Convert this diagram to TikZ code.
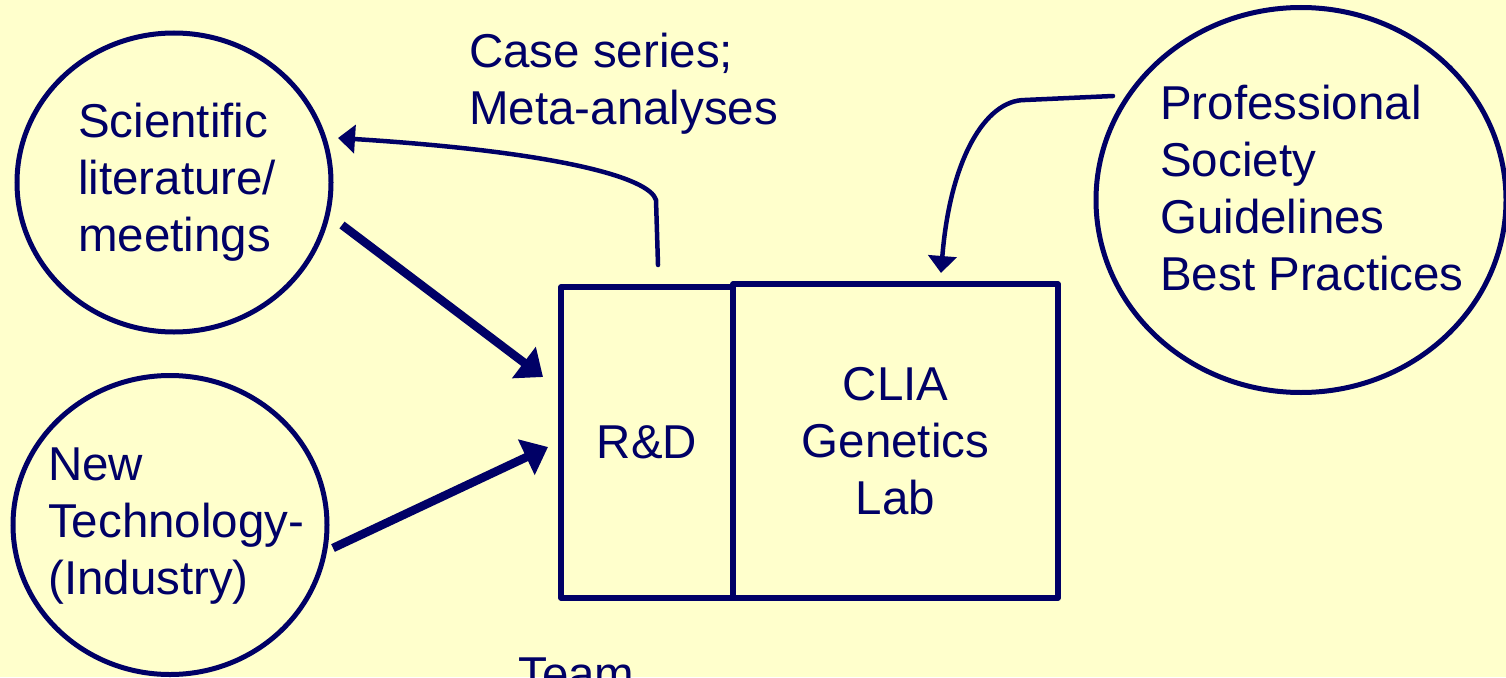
\documentclass[tikz,border=0pt]{standalone}
\usepackage{fontspec}
\setmainfont{Liberation Sans}
\usetikzlibrary{shapes.geometric,arrows.meta}
\definecolor{bgyellow}{RGB}{255,255,204}
\definecolor{navy}{RGB}{0,0,102}
\begin{document}
\begin{tikzpicture}[x=1pt,y=-1pt,
  every node/.style={font=\fontsize{47.5}{57}\selectfont, text=navy},
  oval/.style={ellipse, draw=navy, line width=5pt, inner sep=0pt},
  labbox/.style={draw=navy, line width=5.5pt, line join=round, inner sep=0pt, align=center},
  txt/.style={inner sep=0pt, align=left, anchor=north west},
  thinarrow/.style={draw=navy, line width=4.5pt, line cap=round, -{Triangle[length=17pt,width=28pt]}},
  thickarrow/.style={draw=navy, line width=8.5pt, -{Triangle[length=24pt,width=38pt]}},
]
\useasboundingbox (0,0) rectangle (1506,677);
\clip (0,0) rectangle (1506,677);
\fill[bgyellow] (0,0) rectangle (1506,677);

% ovals
\node[oval, minimum width=314pt, minimum height=299pt] (sci) at (174,182.5) {};
\node[oval, minimum width=314pt, minimum height=299pt] (tech) at (170,525) {};
\node[oval, minimum width=410pt, minimum height=385pt] (prof) at (1301,200) {};

\node[txt] (scitext) at (78,103) {Scientific\\literature/\\meetings};
\node[txt] (techtext) at (48,448) {New\\Technology-\\(Industry)};
\node[txt] (proftext) at (1160,85) {Professional\\Society\\Guidelines\\Best Practices};
\node[txt] (casetext) at (469,33) {Case series;\\Meta-analyses};
\node[txt] (teamtext) at (518,658) {Team};

% boxes
\node[labbox, minimum width=172pt, minimum height=311pt] (rd) at (647,442.5) {R\&D};
\node[labbox, minimum width=325pt, minimum height=314pt] (clia) at (895.5,441) {CLIA\\Genetics\\Lab};

% connectors
\coordinate (a1s) at (658,265);
\coordinate (a1m) at (656,200);
\coordinate (a1e) at (338,138);
\draw[thinarrow] (a1s) -- (a1m) .. controls (650,178) and (560,152) .. (a1e);

\coordinate (a2s) at (1113,96);
\coordinate (a2m) at (1025,100);
\coordinate (a2e) at (941,273);
\draw[thinarrow] (a2s) -- (a2m) .. controls (985,100) and (950,160) .. (a2e);

\coordinate (a3s) at (342,225);
\coordinate (a3e) at (543,377);
\draw[thickarrow] (a3s) -- (a3e);

\coordinate (a4s) at (333,548);
\coordinate (a4e) at (548,447);
\draw[thickarrow] (a4s) -- (a4e);
\end{tikzpicture}
\end{document}
